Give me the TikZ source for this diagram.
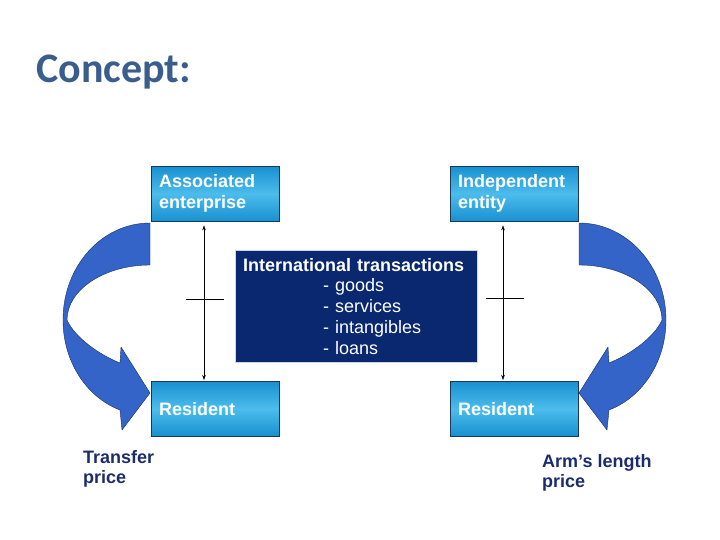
\documentclass[tikz,border=0pt]{standalone}
\usepackage{fontspec}
\setmainfont{Liberation Sans}
\newfontfamily\titlefont{Carlito}
\usetikzlibrary{arrows.meta,calc}

\definecolor{boxtop}{RGB}{24,144,208}
\definecolor{boxmid}{RGB}{76,188,236}
\definecolor{boxline}{RGB}{30,55,85}
\definecolor{navy}{RGB}{10,40,112}
\definecolor{arrowblue}{RGB}{52,100,200}
\definecolor{arrowline}{RGB}{25,45,100}
\definecolor{labelblue}{RGB}{28,45,110}
\definecolor{titleblue}{RGB}{58,94,140}

\tikzset{
  entity/.style={draw=boxline, top color=boxtop, bottom color=boxtop, middle color=boxmid,
    minimum width=128pt, minimum height=55pt, text width=112pt, inner xsep=8pt,
    align=left, anchor=north west, text=white, font=\fontsize{18}{21}\selectfont\bfseries},
  trans/.style={draw=white!80!navy, fill=navy, minimum width=242pt, minimum height=112pt,
    text width=226pt, inner xsep=8pt, align=left, anchor=north west, text=white,
    font=\fontsize{18}{20.7}\selectfont},
  link/.style={<->, >={Stealth[length=5pt,width=3.5pt]}, thin, shorten >=1pt, shorten <=4pt},
  bentarrow/.style={fill=arrowblue, draw=arrowline, thin, line join=round},
  pricelabel/.style={anchor=north west, inner sep=0pt, align=left, text=labelblue,
    font=\fontsize{18}{20}\selectfont\bfseries}
}

% curved arrow on the left; mirrored for the right side
\def\bendarrow{(150,223) .. controls (102,223) and (63,266) .. (63,320)
  .. controls (63,361) and (86,397) .. (120,410) -- (122,430) -- (150,393)
  -- (121,347) -- (120,363) .. controls (100,355) and (75,338) .. (67,320)
  .. controls (67,290) and (104,265) .. (150,265) -- cycle}

\begin{document}
\begin{tikzpicture}[x=1pt,y=-1pt]
    \fill[white] (0,0) rectangle (720,540);
    \useasboundingbox (0,0) rectangle (720,540);

    \node[anchor=base west, inner sep=0pt, text=titleblue,
      font=\titlefont\fontsize{42}{42}\selectfont\bfseries] (title) at (36,83) {Concept:};

    \node[entity] (assoc) at (151,166) {Associated\\enterprise};
    \node[entity] (indep) at (450,166) {Independent\\entity};
    \node[entity] (resl) at (151,381) {Resident};
    \node[entity] (resr) at (450,381) {Resident};

    \node[trans] (trade) at (235,250) {\textbf{International transactions}\\
      \hspace*{80pt}- goods\\ \hspace*{80pt}- services\\
      \hspace*{80pt}- intangibles\\ \hspace*{80pt}- loans};

    \draw[link] ([xshift=53pt]assoc.south west) -- ([xshift=53pt]resl.north west);
    \draw[link] ([xshift=53pt]indep.south west) -- ([xshift=53pt]resr.north west);
    \coordinate (lcut) at (204,299);
    \coordinate (rcut) at (503,298);
    \draw[thin] ($(lcut)+(-18,0)$) -- ($(lcut)+(20,0)$);
    \draw[thin] ($(rcut)+(-17,0)$) -- ($(rcut)+(21,0)$);

    \filldraw[bentarrow] \bendarrow;
    \begin{scope}[xshift=729pt, xscale=-1]
      \filldraw[bentarrow] \bendarrow;
    \end{scope}

    \node[pricelabel] (transfer) at (83,450) {Transfer\\price};
    \node[pricelabel] (armslength) at (542,454) {Arm’s length\\price};
\end{tikzpicture}
\end{document}
